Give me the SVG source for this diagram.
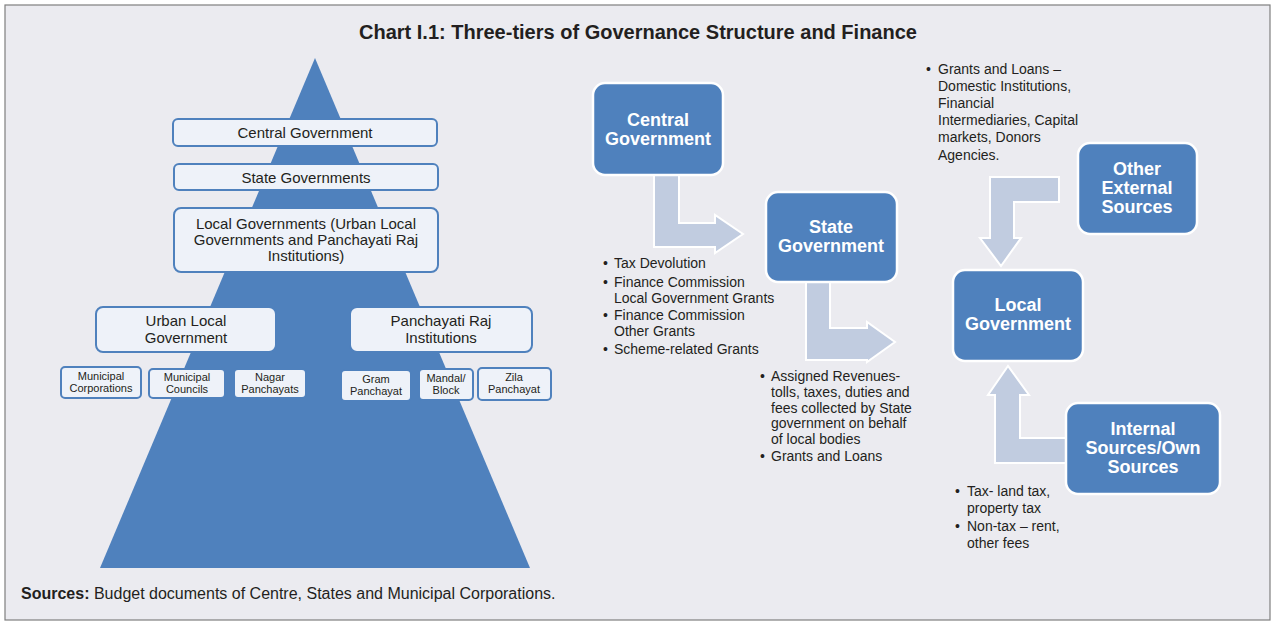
<svg xmlns="http://www.w3.org/2000/svg" width="1276" height="627" viewBox="0 0 1276 627">
<style>
text{font-family:"Liberation Sans",Arial,sans-serif;fill:#231f20}
.lb{fill:#eef2f9;stroke:#4f81bd;stroke-width:2}
.lt{font-size:15px;text-anchor:middle}
.st{font-size:11px;text-anchor:middle}
.bb{fill:#4f81bd;stroke:#fff;stroke-width:2.5}
.bt{font-size:18px;font-weight:bold;fill:#fff;text-anchor:middle}
.arr{fill:#c1cce0;stroke:#fff;stroke-width:2}
.li{font-size:14px}
</style>
<rect x="0" y="0" width="1276" height="627" fill="#fff"/>
<rect x="5" y="5" width="1265" height="615" fill="#ebebf0" stroke="#7f7f7f" stroke-width="1.2"/>
<text x="638" y="39" font-size="20" font-weight="bold" text-anchor="middle">Chart I.1: Three-tiers of Governance Structure and Finance</text>
<polygon points="315,58 530,568 100,568" fill="#4f81bd"/>
<g id="n-central-left"><rect class="lb" x="173" y="119" width="264" height="27" rx="5"/><text class="lt" x="305" y="138">Central Government</text></g>
<g id="n-state-left"><rect class="lb" x="174" y="164" width="264" height="26" rx="5"/><text class="lt" x="306" y="183">State Governments</text></g>
<g id="n-local-left"><rect class="lb" x="174" y="208" width="264" height="64" rx="7"/><text class="lt" x="306" y="229">Local Governments (Urban Local</text><text class="lt" x="306" y="245">Governments and Panchayati Raj</text><text class="lt" x="306" y="261">Institutions)</text></g>
<g id="n-urban"><rect class="lb" x="96" y="307" width="180" height="45" rx="7"/><text class="lt" x="186" y="326">Urban Local</text><text class="lt" x="186" y="343">Government</text></g>
<g id="n-pri"><rect class="lb" x="350" y="307" width="182" height="45" rx="7"/><text class="lt" x="441" y="326">Panchayati Raj</text><text class="lt" x="441" y="343">Institutions</text></g>
<g id="n-mcorp"><rect class="lb" x="61" y="367" width="80" height="31" rx="4"/><text class="st" x="101" y="380">Municipal</text><text class="st" x="101" y="392">Corporations</text></g>
<g id="n-mcoun"><rect class="lb" x="149" y="369" width="76" height="29" rx="4"/><text class="st" x="187" y="381">Municipal</text><text class="st" x="187" y="393">Councils</text></g>
<g id="n-nagar"><rect class="lb" x="234" y="369" width="72" height="29" rx="4"/><text class="st" x="270" y="381">Nagar</text><text class="st" x="270" y="393">Panchayats</text></g>
<g id="n-gram"><rect class="lb" x="341" y="370" width="70" height="31" rx="4"/><text class="st" x="376" y="383">Gram</text><text class="st" x="376" y="395">Panchayat</text></g>
<g id="n-mandal"><rect class="lb" x="419" y="369" width="54" height="31" rx="4"/><text class="st" x="446" y="382">Mandal/</text><text class="st" x="446" y="394">Block</text></g>
<g id="n-zila"><rect class="lb" x="478" y="368" width="73" height="32" rx="4"/><text class="st" x="514" y="381">Zila</text><text class="st" x="514" y="393">Panchayat</text></g>
<g id="connectors">
<path class="arr" d="M654,175 L679,175 L679,223 L715,223 L715,215 L743,234 L715,253 L715,247 L654,247 Z"/>
<path class="arr" d="M806,282 L830,282 L830,328 L867,328 L867,322 L895,342 L867,362 L867,360 L806,360 Z"/>
<path class="arr" d="M1059,177 L1059,202 L1014,202 L1014,238 L1021,238 L1001,266 L980,238 L990,238 L990,177 Z"/>
<path class="arr" d="M1070,438 L1070,463 L995,463 L995,395 L988,395 L1008,366 L1029,395 L1020,395 L1020,438 Z"/>
</g>
<g id="n-central"><rect class="bb" x="593" y="83" width="130" height="92" rx="12"/><text class="bt" x="658" y="126">Central</text><text class="bt" x="658" y="145">Government</text></g>
<g id="n-state"><rect class="bb" x="766" y="192" width="131" height="90" rx="12"/><text class="bt" x="831" y="233">State</text><text class="bt" x="831" y="252">Government</text></g>
<g id="n-local"><rect class="bb" x="953" y="270" width="130" height="91" rx="12"/><text class="bt" x="1018" y="311">Local</text><text class="bt" x="1018" y="330">Government</text></g>
<g id="n-other"><rect class="bb" x="1078" y="143" width="119" height="91" rx="12"/><text class="bt" x="1137" y="175">Other</text><text class="bt" x="1137" y="194">External</text><text class="bt" x="1137" y="213">Sources</text></g>
<g id="n-internal"><rect class="bb" x="1066" y="403" width="154" height="91" rx="12"/><text class="bt" x="1143" y="435">Internal</text><text class="bt" x="1143" y="454">Sources/Own</text><text class="bt" x="1143" y="473">Sources</text></g>
<g class="li">
<text class="li" x="603" y="268">•</text><text class="li" x="614" y="268">Tax Devolution</text>
<text class="li" x="603" y="287">•</text><text class="li" x="614" y="287">Finance Commission</text><text class="li" x="614" y="303">Local Government Grants</text>
<text class="li" x="603" y="320">•</text><text class="li" x="614" y="320">Finance Commission</text><text class="li" x="614" y="336">Other Grants</text>
<text class="li" x="603" y="354">•</text><text class="li" x="614" y="354">Scheme-related Grants</text>
<text class="li" x="760" y="381">•</text><text class="li" x="771" y="381">Assigned Revenues-</text><text class="li" x="771" y="397">tolls, taxes, duties and</text><text class="li" x="771" y="413">fees collected by State</text><text class="li" x="771" y="428">government on behalf</text><text class="li" x="771" y="444">of local bodies</text>
<text class="li" x="760" y="461">•</text><text class="li" x="771" y="461">Grants and Loans</text>
<text class="li" x="926" y="74">•</text><text class="li" x="938" y="74">Grants and Loans –</text><text class="li" x="938" y="91">Domestic Institutions,</text><text class="li" x="938" y="108">Financial</text><text class="li" x="938" y="125">Intermediaries, Capital</text><text class="li" x="938" y="142">markets, Donors</text><text class="li" x="938" y="160">Agencies.</text>
<text class="li" x="955" y="496">•</text><text class="li" x="967" y="496">Tax- land tax,</text><text class="li" x="967" y="513">property tax</text>
<text class="li" x="955" y="531">•</text><text class="li" x="967" y="531">Non-tax – rent,</text><text class="li" x="967" y="548">other fees</text>
</g>
<text x="21" y="599" font-size="16"><tspan font-weight="bold">Sources:</tspan> Budget documents of Centre, States and Municipal Corporations.</text>
</svg>
